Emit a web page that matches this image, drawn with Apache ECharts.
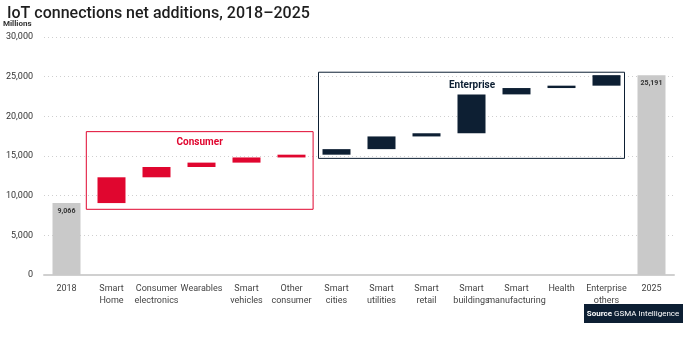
<!DOCTYPE html>
<html><head><meta charset="utf-8">
<script src="https://cdn.jsdelivr.net/npm/echarts@6/dist/echarts.min.js"></script>
<style>html,body{margin:0;padding:0;background:#fff}#c{width:693px;height:340px}</style>
</head><body><div id="c"></div>
<script>
var categories = ['2018','Smart\nHome','Consumer\nelectronics','Wearables','Smart\nvehicles','Other\nconsumer','Smart\ncities','Smart\nutilities','Smart\nretail','Smart\nbuildings','Smart\nmanufacturing','Health','Enterprise\nothers','2025'];
var total2018 = 9066;
var total2025 = 25191;
var consumerAdds = [3250, 1300, 550, 650, 350];
var enterpriseAdds = [700, 1600, 400, 4900, 800, 300, 1325];
var yTicks = [0, 5000, 10000, 15000, 20000, 25000, 30000];

var RED = '#e0062f', NAVY = '#0d1f33', GREY = '#c9c9c9';
var FONT = 'Roboto, "Liberation Sans", sans-serif';

// build waterfall helper arrays
var base = [0], cons = ['-'], ent = ['-'], tot = [total2018];
var run = total2018;
consumerAdds.forEach(function(v){ base.push(run); cons.push(v); ent.push('-'); tot.push('-'); run += v; });
enterpriseAdds.forEach(function(v){ base.push(run); cons.push('-'); ent.push(v); tot.push('-'); run += v; });
base.push(0); cons.push('-'); ent.push('-'); tot.push(total2025);

var chart = echarts.init(document.getElementById('c'), null, {renderer:'canvas'});
var option = {
  animation: false,
  textStyle: {fontFamily: FONT},
  title: {text: 'IoT connections net additions, 2018\u20132025', left: 2, top: 1,
    textStyle: {fontSize: 16, fontWeight: 500, color: '#1e1e1e', fontFamily: FONT}},
  grid: {left: 44, right: 19, top: 37, bottom: 65},
  xAxis: {type: 'category', data: categories,
    axisLine: {lineStyle: {color: '#d0d0d0', width: 2}},
    axisTick: {show: false},
    axisLabel: {interval: 0, color: '#444', fontSize: 9, lineHeight: 12, margin: 8, fontFamily: FONT}},
  yAxis: {type: 'value', min: yTicks[0], max: yTicks[yTicks.length-1], interval: 5000,
    axisLine: {show: false}, axisTick: {show: false},
    splitLine: {lineStyle: {color: '#cfcfcf', type: [1, 3], width: 1}},
    axisLabel: {color: '#333', fontSize: 9, margin: 11, fontFamily: FONT,
      formatter: function(v){ return v.toLocaleString('en-US'); }}},
  series: [
    {name: 'base', type: 'bar', stack: 'w', barWidth: 28, data: base,
      itemStyle: {color: 'transparent'}, silent: true},
    {name: 'Consumer', type: 'bar', stack: 'w', barWidth: 28, data: cons, itemStyle: {color: RED}},
    {name: 'Enterprise', type: 'bar', stack: 'w', barWidth: 28, data: ent, itemStyle: {color: NAVY}},
    {name: 'Total', type: 'bar', stack: 'w', barWidth: 28, data: tot, itemStyle: {color: GREY},
      label: {show: true, position: 'insideTop', distance: 5, fontSize: 7, fontWeight: 'bold', color: '#333',
        formatter: function(p){ return p.value.toLocaleString('en-US'); }}}
  ]
};
chart.setOption(option);

function px(i, v){ return chart.convertToPixel({gridIndex: 0}, [i, v]); }
var band = px(1, 0)[0] - px(0, 0)[0];
var cL = px(1, 0)[0] - band * 0.56, cR = px(5, 0)[0] + band * 0.48;
var cT = px(0, 18070)[1], cB = px(0, 8280)[1];
var eL = px(6, 0)[0] - band * 0.4, eR = px(12, 0)[0] + band * 0.4;
var eT = px(0, 25560)[1], eB = px(0, 14700)[1];

chart.setOption({graphic: [
  {type: 'text', left: 3, top: 20, style: {text: 'Millions', fontSize: 8, fontWeight: 'bold', fill: '#333', fontFamily: FONT}},
  {type: 'rect', shape: {x: cL, y: cT, width: cR - cL, height: cB - cT}, style: {fill: 'none', stroke: RED, lineWidth: 1}},
  {type: 'text', x: (cL + cR) / 2, y: cT + 11, style: {text: 'Consumer', fill: RED, fontSize: 10, fontWeight: 'bold', textAlign: 'center', textVerticalAlign: 'middle', fontFamily: FONT}},
  {type: 'rect', shape: {x: eL, y: eT, width: eR - eL, height: eB - eT}, style: {fill: 'none', stroke: NAVY, lineWidth: 1}},
  {type: 'text', x: 472, y: eT + 13, style: {text: 'Enterprise', fill: NAVY, fontSize: 10, fontWeight: 'bold', textAlign: 'center', textVerticalAlign: 'middle', fontFamily: FONT}},
  {type: 'rect', shape: {x: 584, y: 304, width: 99, height: 19}, style: {fill: NAVY}},
  {type: 'text', x: 633, y: 313.5, style: {text: '{b|Source} GSMA Intelligence', rich: {b: {fontWeight: 'bold', fontSize: 8, fill: '#fff', fontFamily: FONT}}, fontSize: 8, fill: '#fff', textAlign: 'center', textVerticalAlign: 'middle', fontFamily: FONT}}
]});
</script></body></html>
